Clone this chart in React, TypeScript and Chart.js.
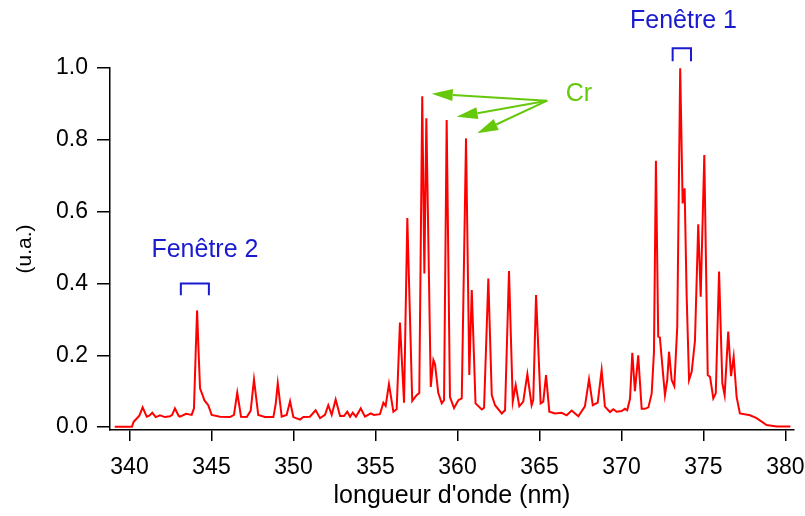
import React, { useEffect, useRef } from "react";
import { Chart, registerables } from "chart.js";

Chart.register(...registerables);

// Wavelength (nm) of each sample of the spectrum
const wavelengths = [
  339.1, 340.15, 340.25, 340.44, 340.6, 340.8, 341.05, 341.2, 341.39, 341.6,
  341.86, 342.16, 342.47, 342.6, 342.77, 343.0, 343.08, 343.45, 343.79, 343.93,
  344.03, 344.12, 344.22, 344.3, 344.45, 344.56, 344.8, 345.01, 345.52, 346.13,
  346.37, 346.57, 346.8, 347.15, 347.39, 347.59, 347.85, 348.26, 348.77, 348.91,
  349.04, 349.28, 349.58, 349.79, 349.99, 350.4, 350.6, 351.0, 351.35, 351.62,
  351.92, 352.12, 352.33, 352.57, 352.84, 353.08, 353.28, 353.45, 353.61, 353.81,
  354.1, 354.36, 354.71, 354.91, 355.27, 355.48, 355.62, 355.82, 356.09, 356.29,
  356.49, 356.74, 356.94, 357.24, 357.51, 357.67, 357.85, 357.98, 358.1, 358.37,
  358.53, 358.63, 358.83, 359.04, 359.18, 359.34, 359.54, 359.79, 360.05, 360.26,
  360.52, 360.72, 360.87, 361.1, 361.48, 361.62, 361.88, 362.09, 362.29, 362.7,
  362.9, 363.14, 363.37, 363.55, 363.77, 364.01, 364.26, 364.52, 364.62, 364.79,
  365.07, 365.23, 365.4, 365.6, 365.95, 366.35, 366.66, 366.96, 367.37, 367.77,
  368.02, 368.25, 368.55, 368.79, 368.99, 369.3, 369.5, 369.71, 370.01, 370.21,
  370.35, 370.52, 370.66, 370.82, 371.02, 371.23, 371.43, 371.64, 371.84, 371.98,
  372.1, 372.24, 372.34, 372.65, 372.79, 372.9, 373.06, 373.22, 373.4, 373.58,
  373.73, 373.85, 373.97, 374.12, 374.28, 374.48, 374.68, 374.83, 375.05, 375.26,
  375.4, 375.6, 375.75, 375.95, 376.15, 376.29, 376.51, 376.68, 376.84, 377.02,
  377.22, 377.84, 378.24, 378.85, 379.46, 380.3,
];

// Normalised intensity (u.a.) at each wavelength
const intensities = [
  0.001, 0.001, 0.015, 0.024, 0.032, 0.055, 0.029, 0.032, 0.04, 0.028,
  0.033, 0.028, 0.03, 0.034, 0.052, 0.031, 0.029, 0.037, 0.034, 0.052,
  0.2, 0.325, 0.2, 0.108, 0.09, 0.075, 0.061, 0.034, 0.029, 0.028,
  0.034, 0.096, 0.029, 0.028, 0.046, 0.133, 0.034, 0.028, 0.028, 0.063,
  0.122, 0.029, 0.034, 0.072, 0.028, 0.021, 0.028, 0.029, 0.047, 0.025,
  0.034, 0.061, 0.034, 0.077, 0.031, 0.031, 0.043, 0.029, 0.04, 0.029,
  0.052, 0.029, 0.038, 0.034, 0.036, 0.068, 0.059, 0.12, 0.043, 0.05,
  0.291, 0.068, 0.582, 0.073, 0.089, 0.095, 0.921, 0.428, 0.86, 0.112,
  0.187, 0.175, 0.095, 0.066, 0.075, 0.855, 0.084, 0.053, 0.075, 0.08,
  0.804, 0.145, 0.382, 0.066, 0.049, 0.054, 0.414, 0.089, 0.061, 0.038,
  0.047, 0.435, 0.071, 0.117, 0.058, 0.071, 0.148, 0.061, 0.075, 0.368,
  0.066, 0.071, 0.145, 0.043, 0.038, 0.04, 0.033, 0.046, 0.03, 0.058,
  0.133, 0.061, 0.068, 0.159, 0.057, 0.042, 0.05, 0.043, 0.045, 0.051,
  0.047, 0.079, 0.207, 0.1, 0.2, 0.051, 0.051, 0.055, 0.093, 0.208,
  0.742, 0.252, 0.25, 0.089, 0.131, 0.21, 0.131, 0.114, 0.279, 0.999,
  0.623, 0.665, 0.372, 0.131, 0.154, 0.24, 0.565, 0.363, 0.758, 0.145,
  0.14, 0.08, 0.094, 0.433, 0.122, 0.089, 0.266, 0.142, 0.196, 0.084,
  0.038, 0.033, 0.025, 0.006, 0.002, 0.002,
];

const xTickValues = [340, 345, 350, 355, 360, 365, 370, 375, 380];
const yTickValues = [0.0, 0.2, 0.4, 0.6, 0.8, 1.0];

const xTitle = "longueur d'onde (nm)";
const yTitle = "(u.a.)";

// Annotations, in data units
const window1Label = "Fenêtre 1";
const window1LabelAt = [373.78, 1.131];
const window1Range = [373.12, 374.24];
const window1Levels = [1.055, 1.019];

const window2Label = "Fenêtre 2";
const window2LabelAt = [344.6, 0.493];
const window2Range = [343.13, 344.84];
const window2Levels = [0.4, 0.367];

const crLabel = "Cr";
const crLabelAt = [367.4, 0.928];
const crArrowFrom = [365.47, 0.909];
const crArrowTips = [
  [358.43, 0.928],
  [359.95, 0.864],
  [361.2, 0.818],
];

const FONT = "'Liberation Sans', Arial, Helvetica, sans-serif";
const BLUE = "#1a1ad0";
const GREEN = "#66c80a";

const annotationPlugin = {
  id: "spectrumAnnotations",
  afterDraw(chart: any) {
    const { ctx } = chart;
    const xs = chart.scales.x;
    const ys = chart.scales.y;
    const px = (v: number) => xs.getPixelForValue(v);
    const py = (v: number) => ys.getPixelForValue(v);
    ctx.save();

    const bracket = (range: number[], levels: number[]) => {
      ctx.beginPath();
      ctx.moveTo(px(range[0]), py(levels[1]));
      ctx.lineTo(px(range[0]), py(levels[0]));
      ctx.lineTo(px(range[1]), py(levels[0]));
      ctx.lineTo(px(range[1]), py(levels[1]));
      ctx.strokeStyle = BLUE;
      ctx.lineWidth = 2;
      ctx.stroke();
    };
    bracket(window1Range, window1Levels);
    bracket(window2Range, window2Levels);

    ctx.font = `25px ${FONT}`;
    ctx.textAlign = "center";
    ctx.textBaseline = "middle";
    ctx.fillStyle = BLUE;
    ctx.fillText(window1Label, px(window1LabelAt[0]), py(window1LabelAt[1]));
    ctx.fillText(window2Label, px(window2LabelAt[0]), py(window2LabelAt[1]));

    ctx.fillStyle = GREEN;
    ctx.fillText(crLabel, px(crLabelAt[0]), py(crLabelAt[1]));

    const ox = px(crArrowFrom[0]);
    const oy = py(crArrowFrom[1]);
    const headLen = 21;
    const headW = 12;
    crArrowTips.forEach(([tx, ty]) => {
      const x1 = px(tx);
      const y1 = py(ty);
      const ang = Math.atan2(y1 - oy, x1 - ox);
      const bx = x1 - headLen * Math.cos(ang);
      const by = y1 - headLen * Math.sin(ang);
      ctx.beginPath();
      ctx.moveTo(ox, oy);
      ctx.lineTo(bx, by);
      ctx.strokeStyle = GREEN;
      ctx.lineWidth = 2;
      ctx.stroke();
      const nx = -Math.sin(ang) * (headW / 2);
      const ny = Math.cos(ang) * (headW / 2);
      ctx.beginPath();
      ctx.moveTo(x1, y1);
      ctx.lineTo(bx + nx, by + ny);
      ctx.lineTo(bx - nx, by - ny);
      ctx.closePath();
      ctx.fillStyle = GREEN;
      ctx.fill();
    });
    ctx.restore();
  },
};

export default function App() {
  const canvasRef = useRef<HTMLCanvasElement | null>(null);

  useEffect(() => {
    if (!canvasRef.current) return;
    const points = wavelengths.map((w, i) => ({ x: w, y: intensities[i] }));
    const chart = new Chart(canvasRef.current, {
      type: "line",
      data: {
        datasets: [
          {
            data: points,
            borderColor: "#ff0000",
            borderWidth: 2,
            pointRadius: 0,
            tension: 0,
            fill: false,
          },
        ],
      },
      options: {
        animation: false,
        responsive: false,
        events: [],
        layout: { padding: { left: 0, top: 68, right: 11, bottom: 0 } },
        plugins: {
          legend: { display: false },
          tooltip: { enabled: false },
        },
        scales: {
          x: {
            type: "linear",
            min: 338.81,
            max: 380.52,
            afterFit: (scale: any) => {
              scale.height = 86;
              scale.paddingLeft = 0;
              scale.paddingRight = 0;
            },
            afterBuildTicks: (scale: any) => {
              scale.ticks = xTickValues.map((v) => ({ value: v }));
            },
            ticks: {
              color: "#000",
              font: { family: FONT, size: 23 },
              padding: 13,
              maxRotation: 0,
              autoSkip: false,
              callback: (v: any) => String(v),
            },
            grid: {
              display: true,
              drawOnChartArea: false,
              drawTicks: true,
              tickLength: 11,
              color: "#000",
              lineWidth: 1.5,
            },
            border: { display: true, color: "#000", width: 1.5 },
            title: {
              display: true,
              text: xTitle,
              color: "#000",
              font: { family: FONT, size: 25 },
              padding: { top: 0, bottom: 5 },
            },
          },
          y: {
            type: "linear",
            min: -0.008,
            max: 1.0,
            afterFit: (scale: any) => {
              scale.width = 110;
              scale.paddingTop = 0;
              scale.paddingBottom = 0;
            },
            afterBuildTicks: (scale: any) => {
              scale.ticks = yTickValues.map((v) => ({ value: v }));
            },
            ticks: {
              color: "#000",
              font: { family: FONT, size: 23 },
              padding: 9,
              autoSkip: false,
              callback: (v: any) => Number(v).toFixed(1),
            },
            grid: {
              display: true,
              drawOnChartArea: false,
              drawTicks: true,
              tickLength: 13,
              color: "#000",
              lineWidth: 1.5,
            },
            border: { display: true, color: "#000", width: 1.5 },
            title: {
              display: true,
              text: yTitle,
              color: "#000",
              font: { family: FONT, size: 21 },
              padding: { top: 13, bottom: 0 },
            },
          },
        },
      },
      plugins: [annotationPlugin],
    });
    return () => chart.destroy();
  }, []);

  return (
    <canvas
      ref={canvasRef}
      width={805}
      height={516}
      style={{ position: "absolute", left: 0, top: 0, display: "block", width: 805, height: 516 }}
    />
  );
}
